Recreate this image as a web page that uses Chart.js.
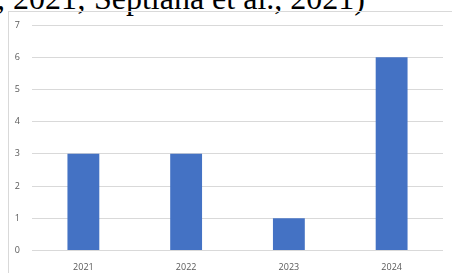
<!DOCTYPE html>
<html>
<head>
<meta charset="utf-8">
<script src="https://cdn.jsdelivr.net/npm/chart.js@4/dist/chart.umd.min.js"></script>
<style>
  html, body { margin: 0; padding: 0; background: #fff; }
  body { width: 452px; height: 273px; position: relative; overflow: hidden; }
  #cite {
    position: absolute; left: -3px; top: -20px;
    font-family: "Liberation Serif", "Times New Roman", serif;
    font-size: 32px; color: #000; white-space: nowrap;
  }
  #frame {
    position: absolute; left: 8px; top: 11px; width: 460px; height: 270px;
    border: 1px solid #d9d9d9; box-sizing: border-box;
  }
  #wrap { position: absolute; left: 0; top: 0; width: 452px; height: 273px; }
</style>
</head>
<body>
<div id="cite">, 2021; Septiana et al., 2021)</div>
<div id="frame"></div>
<div id="wrap"><canvas id="barChart"></canvas></div>
<script>
var years = ['2021', '2022', '2023', '2024'];
var counts = [3, 3, 1, 6];
var yTicks = [0, 1, 2, 3, 4, 5, 6, 7];

var ctx = document.getElementById('barChart');
var barChart = new Chart(ctx, {
  type: 'bar',
  data: {
    labels: years,
    datasets: [{
      label: 'Count',
      data: counts,
      backgroundColor: '#4472c4',
      categoryPercentage: 1,
      barPercentage: 0.31
    }]
  },
  options: {
    responsive: true,
    maintainAspectRatio: false,
    animation: false,
    layout: { padding: { left: 0, right: 9, top: 25, bottom: 0 } },
    plugins: { legend: { display: false }, tooltip: { enabled: false } },
    scales: {
      x: {
        grid: { display: false },
        border: { display: false },
        ticks: { color: '#595959', font: { family: 'Open Sans', size: 9 }, padding: 4 },
        afterFit: function(scale) { scale.height = 22.5; }
      },
      y: {
        min: 0, max: 7,
        grid: { color: '#d9d9d9', lineWidth: 1, drawTicks: false },
        border: { display: false },
        ticks: {
          stepSize: 1, color: '#595959', padding: 12,
          font: { family: 'Open Sans', size: 9 },
          callback: function(v) { return yTicks.indexOf(v) >= 0 ? v : ''; }
        },
        afterFit: function(scale) { scale.width = 32; }
      }
    }
  }
});
</script>
</body>
</html>
